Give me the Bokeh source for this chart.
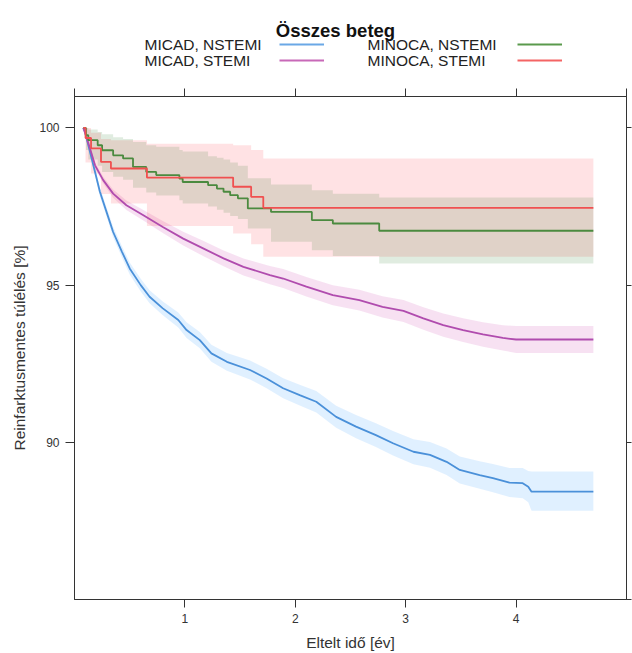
from bokeh.plotting import figure
from bokeh.layouts import column
from bokeh.models import Range1d, LinearAxis, FixedTicker, Label, Legend, LegendItem
from bokeh.core.properties import value
from bokeh.embed import file_html
from bokeh.resources import INLINE

FONT = "Liberation Sans"

# ---------------- data ----------------
title_text = "Összes beteg"
x_title = "Eltelt idő [év]"
y_title = "Reinfarktusmentes túlélés [%]"
series_names = ["MICAD, NSTEMI", "MICAD, STEMI", "MINOCA, NSTEMI", "MINOCA, STEMI"]
x_frame_ticks = [0, 1, 2, 3, 4, 5]
x_label_ticks = [1, 2, 3, 4]
y_frame_ticks = [85, 90, 95, 100]
y_label_ticks = [90, 95, 100]

# MICAD, NSTEMI
t_micad_nstemi = [0.08, 0.095, 0.14, 0.186, 0.23, 0.29, 0.35, 0.43, 0.50, 0.60, 0.68, 0.80, 0.94,
                  1.015, 1.135, 1.24, 1.38, 1.59, 1.74, 1.89, 2.04, 2.19, 2.37, 2.55, 2.73, 2.885,
                  3.07, 3.22, 3.37, 3.49, 3.67, 3.79, 3.94, 4.06, 4.11, 4.14, 4.70]
s_micad_nstemi = [100, 99.87, 99.24, 98.60, 97.97, 97.33, 96.69, 96.06, 95.53, 95.00, 94.63, 94.26,
                  93.89, 93.57, 93.25, 92.83, 92.56, 92.30, 92.03, 91.72, 91.50, 91.29, 90.81, 90.50,
                  90.23, 89.97, 89.70, 89.60, 89.38, 89.12, 88.96, 88.86, 88.72, 88.70, 88.59, 88.43, 88.43]
up_micad_nstemi = [100, 99.92, 99.34, 98.72, 98.11, 97.48, 96.86, 96.24, 95.72, 95.20, 94.84, 94.48,
                   94.13, 93.82, 93.51, 93.10, 92.84, 92.60, 92.34, 92.04, 91.83, 91.63, 91.16, 90.87,
                   90.61, 90.36, 90.10, 90.01, 89.80, 89.55, 89.40, 89.31, 89.18, 89.18, 89.09, 89.07, 89.07]
lo_micad_nstemi = [100, 99.82, 99.14, 98.48, 97.83, 97.18, 96.52, 95.88, 95.34, 94.80, 94.42, 94.04,
                   93.65, 93.32, 92.99, 92.56, 92.28, 92.00, 91.72, 91.40, 91.17, 90.95, 90.46, 90.13,
                   89.85, 89.58, 89.30, 89.19, 88.96, 88.69, 88.52, 88.41, 88.26, 88.22, 88.09, 87.82, 87.82]

# MICAD, STEMI
t_micad_stemi = [0.08, 0.10, 0.14, 0.186, 0.26, 0.35, 0.47, 0.62, 0.80, 0.985, 1.165, 1.35, 1.53,
                 1.77, 1.89, 2.10, 2.34, 2.58, 2.79, 2.98, 3.16, 3.34, 3.52, 3.70, 3.88, 4.00, 4.70]
s_micad_stemi = [100, 99.80, 99.35, 98.81, 98.34, 97.91, 97.54, 97.23, 96.85, 96.48, 96.17, 95.85,
                 95.58, 95.32, 95.21, 94.95, 94.68, 94.52, 94.31, 94.18, 93.94, 93.73, 93.57, 93.43,
                 93.32, 93.27, 93.27]
up_micad_stemi = [100, 99.84, 99.42, 98.90, 98.45, 98.04, 97.69, 97.40, 97.04, 96.70, 96.41, 96.10,
                  95.85, 95.61, 95.51, 95.26, 95.00, 94.85, 94.65, 94.53, 94.30, 94.10, 93.95, 93.82,
                  93.72, 93.70, 93.70]
lo_micad_stemi = [100, 99.76, 99.28, 98.72, 98.23, 97.78, 97.39, 97.06, 96.66, 96.26, 95.93, 95.60,
                  95.31, 95.03, 94.91, 94.64, 94.36, 94.19, 93.97, 93.83, 93.58, 93.36, 93.19, 93.04,
                  92.92, 92.84, 92.84]

# MINOCA, NSTEMI (step curve)
t_minoca_nstemi = [0.08, 0.104, 0.125, 0.21, 0.25, 0.35, 0.44, 0.53, 0.65, 0.74, 0.95, 0.98, 1.21,
                   1.29, 1.35, 1.41, 1.48, 1.57, 1.78, 2.15, 2.34, 2.76, 4.70]
s_minoca_nstemi = [100, 99.77, 99.61, 99.45, 99.29, 99.13, 99.03, 98.76, 98.60, 98.50, 98.39, 98.28,
                   98.18, 98.07, 97.97, 97.86, 97.76, 97.44, 97.33, 97.07, 96.96, 96.73, 96.73]
up_minoca_nstemi = [100, 100, 99.95, 99.87, 99.80, 99.70, 99.65, 99.55, 99.45, 99.40, 99.30, 99.25,
                    99.10, 99.05, 99.00, 98.90, 98.80, 98.40, 98.20, 98.02, 97.91, 97.79, 97.79]
lo_minoca_nstemi = [100, 99.30, 99.00, 98.80, 98.60, 98.45, 98.35, 98.10, 97.95, 97.85, 97.70, 97.60,
                    97.50, 97.40, 97.30, 97.20, 97.10, 96.80, 96.38, 96.11, 95.93, 95.69, 95.69]

# MINOCA, STEMI (step curve)
t_minoca_stemi = [0.08, 0.10, 0.15, 0.24, 0.33, 0.656, 1.437, 1.60, 1.71, 4.70]
s_minoca_stemi = [100, 99.68, 99.35, 98.92, 98.71, 98.42, 98.13, 97.81, 97.46, 97.46]
up_minoca_stemi = [100, 100, 99.85, 99.65, 99.61, 99.50, 99.45, 99.30, 99.03, 99.03]
lo_minoca_stemi = [100, 98.90, 98.55, 97.90, 97.60, 96.88, 96.64, 96.30, 95.90, 95.90]

series_t = [t_micad_nstemi, t_micad_stemi, t_minoca_nstemi, t_minoca_stemi]
series_s = [s_micad_nstemi, s_micad_stemi, s_minoca_nstemi, s_minoca_stemi]

line_colors = ["#4a90d9", "#b04cae", "#4b8a3f", "#f05050"]
key_colors = ["#6aa8e6", "#c869b8", "#5a9a4c", "#f46464"]
band_colors = ["#0080ff", "#cc33aa", "#006400", "#ff1f2f"]

W = 632
HEAD_H = 80
MAIN_H = 653 - HEAD_H
FRAME_LEFT = 74   # the column layout aligns the header frame with the main frame

# ---------------- header: title and key ----------------
head = figure(width=W, height=HEAD_H, output_backend="svg", toolbar_location=None,
              x_range=Range1d(0, 1), y_range=Range1d(0, 1),
              x_axis_location=None, y_axis_location=None, min_border=0)
head.grid.grid_line_color = None
head.outline_line_color = None
# key renderers (their data lie outside this header's ranges, so only the key samples show)
key_renderers = [head.line(x=t, y=s, line_color=c, line_width=2)
                 for t, s, c in zip(series_t, series_s, key_colors)]

head.add_layout(Label(x=335 - FRAME_LEFT, y=HEAD_H - 30, x_units="screen", y_units="screen",
                      text=title_text, text_font=FONT, text_font_size="18.5px",
                      text_font_style="bold", text_color="#111111", text_align="center",
                      text_baseline="alphabetic"))

def key_legend(renderers, loc):
    return Legend(items=[LegendItem(label=value(" "), renderers=[r]) for r in renderers],
                  location=loc, orientation="vertical", glyph_width=45, glyph_height=16,
                  label_height=16, label_width=0, label_standoff=0, label_text_font_size="1px",
                  spacing=0, padding=0, margin=0, border_line_color=None,
                  background_fill_alpha=0)

head.add_layout(key_legend(key_renderers[:2], (279 - FRAME_LEFT, HEAD_H - 68)))
head.add_layout(key_legend(key_renderers[2:], (517 - FRAME_LEFT, HEAD_H - 68)))

key_x = [144, 144, 367, 367]
key_y = [HEAD_H - 44, HEAD_H - 60, HEAD_H - 44, HEAD_H - 60]
for name, kx, ky in zip(series_names, key_x, key_y):
    head.add_layout(Label(x=kx - FRAME_LEFT, y=ky, x_units="screen", y_units="screen", text=name,
                          text_font=FONT, text_font_size="15.5px", text_color="#222222",
                          text_align="left", text_baseline="middle"))

# ---------------- main panel ----------------
p = figure(width=W, height=MAIN_H, output_backend="svg", toolbar_location=None,
           x_range=Range1d(0, 5), y_range=Range1d(85, 101),
           x_axis_location=None, y_axis_location=None,
           min_border_left=FRAME_LEFT, min_border_right=6, min_border_top=96 - HEAD_H,
           min_border_bottom=53)
p.grid.grid_line_color = None
p.outline_line_color = "#333333"
p.outline_line_width = 1

def make_axis(ticks, labelled, tick_out=8, label=None):
    ax = LinearAxis(ticker=FixedTicker(ticks=ticks))
    ax.axis_line_color = "#333333"
    ax.major_tick_line_color = "#333333"
    ax.major_tick_out = tick_out
    ax.major_tick_in = 0
    ax.minor_tick_line_color = None
    ax.major_label_text_font = FONT
    if labelled:
        ax.major_label_text_font_size = "12px"
        ax.major_label_text_color = "#333333"
    else:
        ax.major_label_text_font_size = "1px"
        ax.major_label_text_color = None
        ax.major_label_standoff = 0
    if label:
        ax.axis_label = label
        ax.axis_label_text_font = FONT
        ax.axis_label_text_font_style = "normal"
        ax.axis_label_text_font_size = "15.5px"
        ax.axis_label_text_color = "#333333"
    return ax

xb = make_axis(x_label_ticks, True, label=x_title)
xb.major_label_standoff = 6
xb.axis_label_standoff = 8
xt = make_axis(x_frame_ticks, False)
yl = make_axis(y_label_ticks, True, tick_out=9, label=y_title)
yl.major_label_standoff = 6
yl.axis_label_standoff = 8
yr = make_axis(y_frame_ticks, False, tick_out=5)
p.add_layout(xb, "below")
p.add_layout(xt, "above")
p.add_layout(yl, "left")
p.add_layout(yr, "right")

# confidence bands
p.varea(x=t_micad_nstemi, y1=lo_micad_nstemi, y2=up_micad_nstemi,
        fill_color=band_colors[0], fill_alpha=0.12)
p.varea(x=t_micad_stemi, y1=lo_micad_stemi, y2=up_micad_stemi,
        fill_color=band_colors[1], fill_alpha=0.15)
p.varea_step(x=t_minoca_stemi, y1=lo_minoca_stemi, y2=up_minoca_stemi, step_mode="after",
             fill_color=band_colors[3], fill_alpha=0.13)
p.varea_step(x=t_minoca_nstemi, y1=lo_minoca_nstemi, y2=up_minoca_nstemi, step_mode="after",
             fill_color=band_colors[2], fill_alpha=0.12)

# survival curves
p.line(t_micad_nstemi, s_micad_nstemi, line_color=line_colors[0], line_width=1.8)
p.line(t_micad_stemi, s_micad_stemi, line_color=line_colors[1], line_width=1.8)
p.step(t_minoca_nstemi, s_minoca_nstemi, mode="after", line_color=line_colors[2], line_width=1.8)
p.step(t_minoca_stemi, s_minoca_stemi, mode="after", line_color=line_colors[3], line_width=1.8)

page = column(head, p, spacing=0)
open("out.html", "w").write(file_html(page, INLINE))
